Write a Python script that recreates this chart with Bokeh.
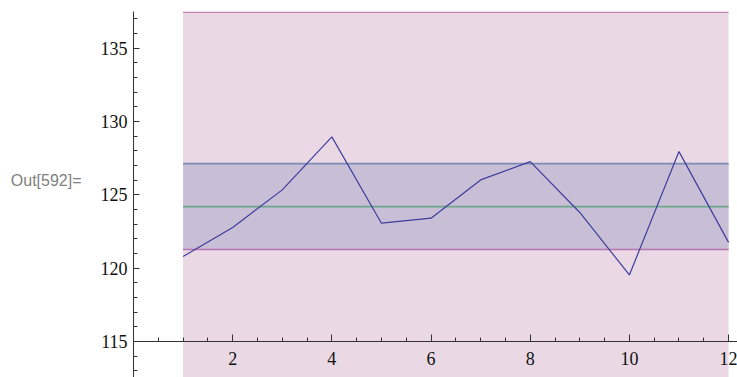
from bokeh.plotting import figure
from bokeh.models import Range1d, FixedTicker
from bokeh.embed import file_html
from bokeh.resources import INLINE

# ---- data ----
x_vals = [1, 2, 3, 4, 5, 6, 7, 8, 9, 10, 11, 12]
y_vals = [120.80, 122.78, 125.34, 128.95, 123.07, 123.41,
          126.02, 127.27, 123.80, 119.54, 127.95, 121.76]
mean_value = 124.2
inner_band = [121.28, 127.13]
outer_band = [110.95, 137.45]
x_major_ticks = [2, 4, 6, 8, 10, 12]
x_minor_ticks = [0.5, 1, 1.5, 2.5, 3, 3.5, 4.5, 5, 5.5, 6.5, 7, 7.5,
                 8.5, 9, 9.5, 10.5, 11, 11.5, 12.5]
y_major_ticks = [115, 120, 125, 130, 135]
y_minor_ticks = [113, 114, 116, 117, 118, 119, 121, 122, 123, 124, 126, 127,
                 128, 129, 131, 132, 133, 134, 136, 137]
out_label = "Out[592]="

SERIF = "'Liberation Serif', 'Times New Roman', serif"

p = figure(width=737, height=377, output_backend="svg", toolbar_location=None,
           x_range=Range1d(0, 12.18), y_range=Range1d(112.55, 137.5),
           min_border_left=133, min_border_right=0, min_border_top=11,
           min_border_bottom=0, background_fill_color="white",
           border_fill_color="white")
p.outline_line_color = None
p.xgrid.visible = False
p.ygrid.visible = False

x0, x1 = x_vals[0], x_vals[-1]
# outer (pink) band
p.varea(x=[x0, x1], y1=[outer_band[0]] * 2, y2=[outer_band[1]] * 2,
        fill_color="#EAD9E5")
p.line([x0, x1], [outer_band[1]] * 2, line_color="#C283B5", line_width=1.6)
# inner band
p.varea(x=[x0, x1], y1=[inner_band[0]] * 2, y2=[inner_band[1]] * 2,
        fill_color="#C8BED6")
p.line([x0, x1], [inner_band[1]] * 2, line_color="#7D8BB7", line_width=1.6)
p.line([x0, x1], [inner_band[0]] * 2, line_color="#B874B0", line_width=1.6)
p.line([x0, x1], [mean_value] * 2, line_color="#6DA688", line_width=1.6)
# data
p.line(x_vals, y_vals, line_color="#3E3E9E", line_width=1.2)

# axes
xa = p.xaxis[0]
xa.fixed_location = 115
xa.ticker = FixedTicker(ticks=x_major_ticks, minor_ticks=x_minor_ticks)
xa.major_tick_in = 7
xa.major_tick_out = 0
xa.minor_tick_in = 4
xa.minor_tick_out = 0
xa.major_label_standoff = 10
xa.major_label_text_font = SERIF
xa.major_label_text_font_size = "18px"
xa.major_label_text_color = "#111111"
xa.axis_line_color = "#333333"
xa.major_tick_line_color = "#333333"
xa.minor_tick_line_color = "#333333"

ya = p.yaxis[0]
ya.ticker = FixedTicker(ticks=y_major_ticks, minor_ticks=y_minor_ticks)
ya.major_tick_in = 6
ya.major_tick_out = 0
ya.minor_tick_in = 4
ya.minor_tick_out = 0
ya.major_label_standoff = 6
ya.major_label_text_font = SERIF
ya.major_label_text_font_size = "18px"
ya.major_label_text_color = "#111111"
ya.axis_line_color = "#333333"
ya.major_tick_line_color = "#333333"
ya.minor_tick_line_color = "#333333"
ya.axis_label = out_label + "\n"
ya.axis_label_orientation = "horizontal"
ya.axis_label_standoff = 16
ya.axis_label_text_font = "'Liberation Sans', Arial, sans-serif"
ya.axis_label_text_font_style = "normal"
ya.axis_label_text_font_size = "16px"
ya.axis_label_text_color = "#808080"
ya.axis_label_text_line_height = 1.6

open("out.html", "w").write(file_html(p, INLINE))
